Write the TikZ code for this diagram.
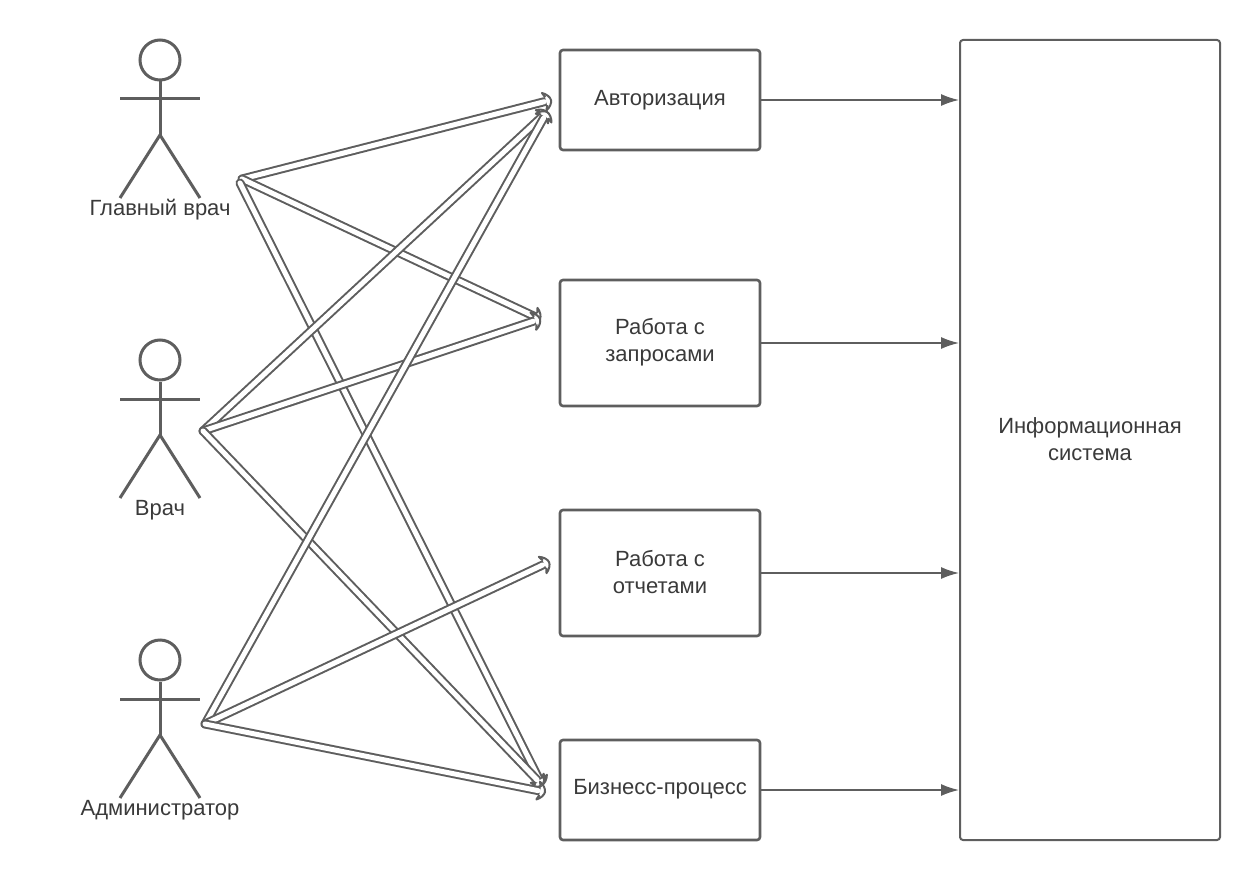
\documentclass[tikz,border=0pt]{standalone}
\usepackage{fontspec}
\setmainfont{Liberation Sans}
\usetikzlibrary{arrows.meta,calc,positioning}
\definecolor{linegray}{HTML}{5E5E5E}
\definecolor{textgray}{HTML}{3A3A3A}
\tikzset{
	box/.style={draw=linegray, line width=2.6pt, rounded corners=3pt, minimum width=200pt},
	boxtext/.style={align=center, text=textgray, font=\fontsize{22}{27}\selectfont},
	actorlabel/.style={text=textgray, font=\fontsize{22}{24}\selectfont, inner sep=0pt},
	limb/.style={draw=linegray, line width=3pt},
	flow/.style={color=linegray, line width=1.6pt, -{Latex[length=18pt,width=12pt]}},
	link/.style={draw=linegray, line width=2pt, double=white, double distance=5pt, line cap=round, shorten >=7pt},
	pics/crescent/.style={code={
		\fill[white] (-7,9) .. controls (-3,7) and (0,3) .. (0,0) .. controls (0,-3) and (-3,-7) .. (-7,-9) -- (-5,-4) -- (-5,4) -- cycle;
		\draw[draw=linegray, line width=2pt, line join=round] (-5,4) -- (-7,9) .. controls (-3,7) and (0,3) .. (0,0) .. controls (0,-3) and (-3,-7) .. (-7,-9) -- (-5,-4);
	}}
}
\newcommand{\actor}[3]{%
	\node[limb, circle, minimum size=40pt, inner sep=0pt] (#1-head) at (160,#2) {};
	\draw[limb] (120,#2+39) -- (200,#2+39);
	\draw[limb] (#1-head.south) -- (160,#2+75);
	\draw[limb] (120,#2+138) -- (160,#2+75) -- (200,#2+138);
	\node[actorlabel] (#1-label) at (160,#2+150) {#3};
}
\begin{document}
\begin{tikzpicture}[x=1pt, y=-1pt]
	\useasboundingbox (0,0) rectangle (1260,880);
	\actor{chief}{60}{Главный врач}
	\actor{doctor}{360}{Врач}
	\actor{admin}{660}{Администратор}
	\node[box, minimum height=100pt] (auth) at (660,100) {};
	\node[boxtext] (authtext) at (660,100) {Авторизация};
	\node[box, minimum height=126pt] (queries) at (660,343) {};
	\node[boxtext] (queriestext) at (660,342) {Работа с\\запросами};
	\node[box, minimum height=126pt] (reports) at (660,573) {};
	\node[boxtext] (reportstext) at (660,572) {Работа с\\отчетами};
	\node[box, minimum height=100pt] (process) at (660,790) {};
	\node[boxtext] (processtext) at (660,789) {Бизнесс-процесс};
	\node[box, line width=2pt, minimum width=260pt, minimum height=800pt] (system) at (1090,440) {};
	\node[boxtext] (systemtext) at (1090,439) {Информационная\\система};
	\coordinate (chief-out) at (242,179);
	\coordinate (chief-low) at (240,183);
	\coordinate (doctor-out) at (203,431);
	\coordinate (admin-out) at (205,724);
	\coordinate (auth-top) at (551,100);
	\coordinate (auth-low) at (547,112);
	\coordinate (queries-in) at (540,319);
	\coordinate (reports-in) at (549,562);
	\coordinate (process-top) at (542,785);
	\coordinate (process-low) at (545,792);
	\foreach \from/\to in {chief-out/auth-top, chief-out/queries-in, chief-low/process-top,
		doctor-out/auth-low, doctor-out/queries-in, doctor-out/process-top,
		admin-out/auth-low, admin-out/reports-in, admin-out/process-low}{
		\draw[link] (\from) -- (\to);
		\path let \p1=($(\to)-(\from)$), \n1={atan2(\y1,\x1)} in
			pic[rotate=\n1] at (\to) {crescent};
	}
	\path[flow]
	(auth) edge (auth -| system.west)
	(queries) edge (queries -| system.west)
	(reports) edge (reports -| system.west)
	(process) edge (process -| system.west);
\end{tikzpicture}
\end{document}
